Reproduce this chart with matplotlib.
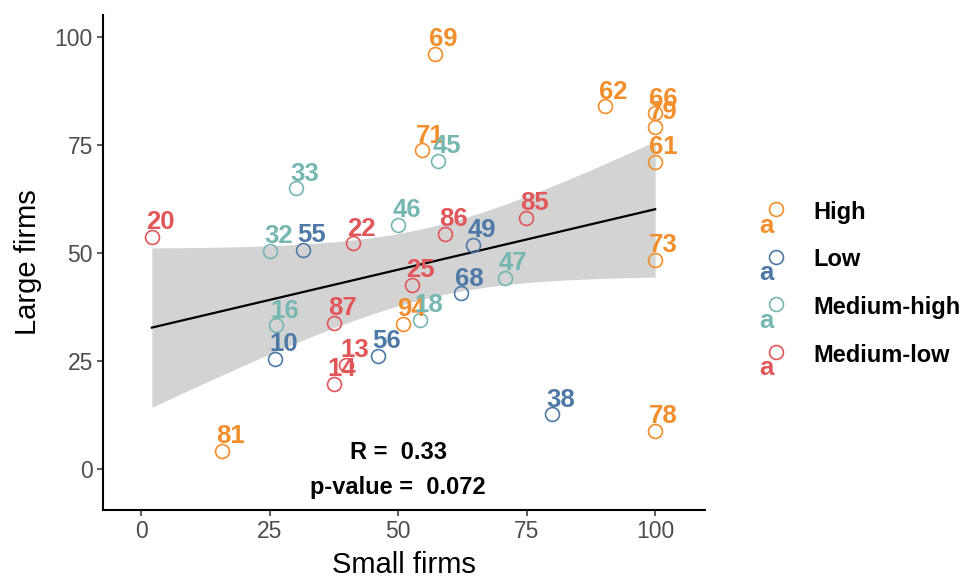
import matplotlib
matplotlib.use("Agg")
import matplotlib.pyplot as plt
from matplotlib.lines import Line2D
from matplotlib.legend_handler import HandlerBase
from matplotlib.text import Text
import numpy as np

plt.rcParams['font.family'] = ['Liberation Sans', 'DejaVu Sans']

# data
groups = ["High", "Low", "Medium-high", "Medium-low"]
colors = {"High": "#F28E2B", "Low": "#4E79A7", "Medium-high": "#76B7B2", "Medium-low": "#E15759"}

labels = ["69", "62", "66", "79", "61", "71", "73", "94", "81", "78",
          "55", "49", "68", "10", "56", "38",
          "45", "33", "32", "46", "47", "16", "18",
          "20", "22", "86", "85", "25", "87", "13", "14"]
small = [57.2, 90.3, 100, 100, 100, 54.7, 100, 51.0, 15.8, 100,
         31.5, 64.6, 62.3, 26.1, 46.1, 80.0,
         57.8, 30.2, 25.1, 50.0, 70.8, 26.3, 54.3,
         2.1, 41.2, 59.1, 74.9, 52.7, 37.5, 39.9, 37.5]
large = [96.1, 84.0, 82.4, 79.2, 71.1, 73.8, 48.4, 33.6, 4.2, 8.8,
         50.7, 51.9, 40.7, 25.5, 26.2, 12.7,
         71.3, 65.0, 50.5, 56.5, 44.2, 33.3, 34.5,
         53.7, 52.3, 54.4, 58.1, 42.6, 33.8, 24.1, 19.7]
group = ["High"] * 10 + ["Low"] * 6 + ["Medium-high"] * 7 + ["Medium-low"] * 8

stat_r = "R =  0.33"
stat_p = "p-value =  0.072"

x = np.array(small)
y = np.array(large)

fig = plt.figure(figsize=(9.69, 5.79), dpi=100)
ax = fig.add_axes([0.1063, 0.1192, 0.6213, 0.8548])

# linear fit + 95% confidence band
n = len(x)
b1, b0 = np.polyfit(x, y, 1)
xs = np.linspace(x.min(), x.max(), 100)
yhat = b0 + b1 * xs
resid = y - (b0 + b1 * x)
s = np.sqrt(np.sum(resid ** 2) / (n - 2))
se = s * np.sqrt(1 / n + (xs - x.mean()) ** 2 / np.sum((x - x.mean()) ** 2))
tval = 2.045
ax.fill_between(xs, yhat - tval * se, yhat + tval * se, color="#D3D3D3", lw=0, zorder=1)
ax.plot(xs, yhat, color="black", lw=1.6, zorder=2)

for xi, yi, lab, g in zip(small, large, labels, group):
    ax.plot(xi, yi, "o", ms=10, mfc="none", mec=colors[g], mew=1.2, zorder=3)
    ax.annotate(lab, (xi, yi), xytext=(6, 10.5), textcoords="offset points",
                ha="center", va="center", color=colors[g], fontsize=18.5,
                fontweight="bold", zorder=4)

ax.text(50, 3.9, stat_r, ha="center", va="center", fontsize=17, fontweight="bold")
ax.text(50, -4.2, stat_p, ha="center", va="center", fontsize=17, fontweight="bold")

ax.set_xlim(-7.4, 109.7)
ax.set_ylim(-9.5, 105.1)
ax.set_xticks([0, 25, 50, 75, 100])
ax.set_yticks([0, 25, 50, 75, 100])
for sp in ["top", "right"]:
    ax.spines[sp].set_visible(False)
for sp in ["left", "bottom"]:
    ax.spines[sp].set_linewidth(1.5)
ax.tick_params(labelsize=16.5, labelcolor="#4D4D4D", color="#333333", length=4.3, width=1.1, pad=3)
ax.set_xlabel("Small firms", fontsize=21, labelpad=6)
ax.set_ylabel("Large firms", fontsize=21, labelpad=9)


class CircleA(HandlerBase):
    def create_artists(self, legend, orig_handle, xdescent, ydescent, width, height, fontsize, trans):
        c = orig_handle.get_markeredgecolor()
        m = Line2D([width * 0.62], [height * 0.6], marker="o", ms=10, mfc="none",
                   mec=c, mew=1.2, ls="none", transform=trans)
        t = Text(width * 0.38, height * 0.6 - 12, "a", color=c, fontsize=18.5,
                 fontweight="bold", ha="center", va="center", transform=trans)
        return [m, t]


handles = [Line2D([], [], marker="o", mec=colors[g], mfc="none", ls="none") for g in groups]
leg = fig.legend(handles, groups, handler_map={Line2D: CircleA()},
                 loc="center left", bbox_to_anchor=(0.7545, 0.51), frameon=False,
                 prop={"size": 17, "weight": "bold"}, labelspacing=1.04,
                 handlelength=1.6, handletextpad=1.0)

fig.savefig("out.png", dpi=100)
